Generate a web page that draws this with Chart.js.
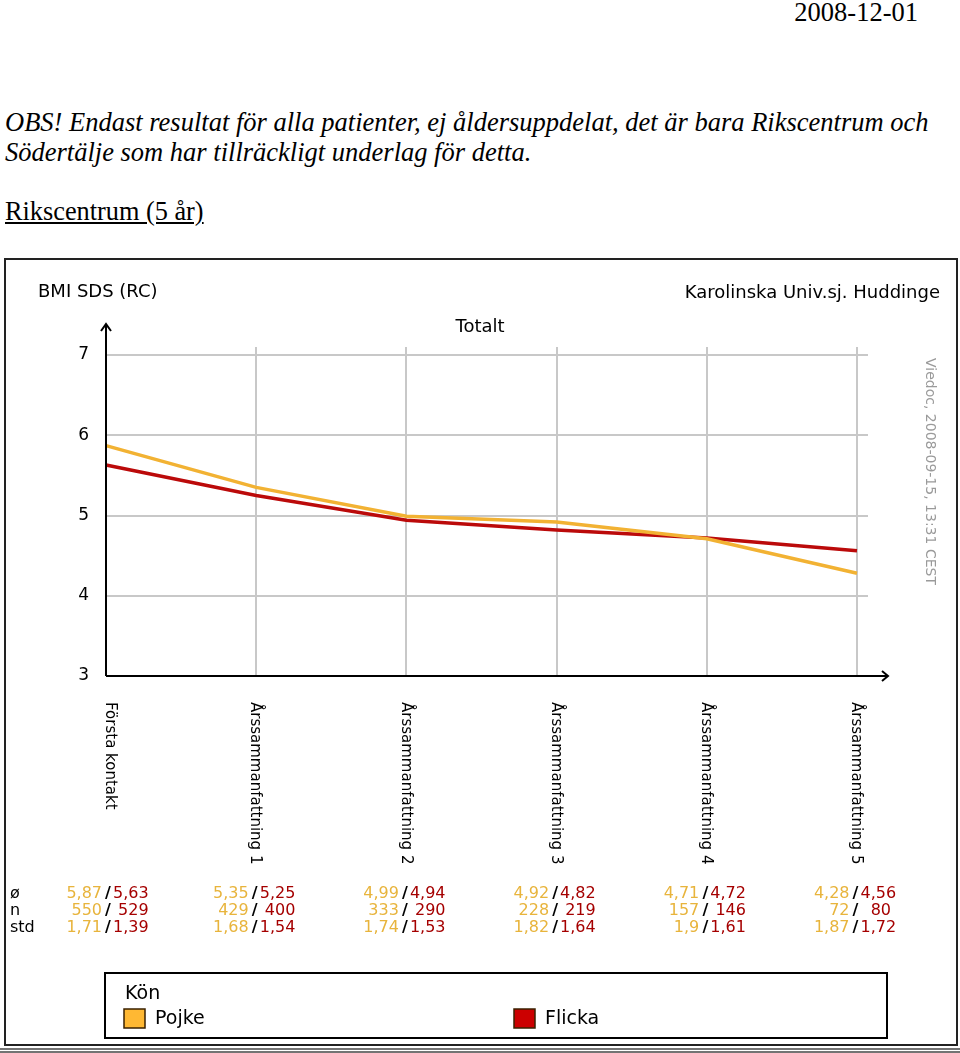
<!DOCTYPE html>
<html>
<head>
<meta charset="utf-8">
<title>BMI SDS (RC)</title>
<script src="https://cdn.jsdelivr.net/npm/chart.js@4.4.1/dist/chart.umd.min.js"></script>
<style>
  body { margin: 0; width: 960px; height: 1053px; position: relative; background: #fff; overflow: hidden;
         font-family: "Liberation Serif", "Times New Roman", serif; color: #000; }
  #date { position: absolute; right: 42px; top: -1px; font-size: 26.5px; line-height: 26px; }
  #note { position: absolute; left: 5px; top: 107px; margin: 0; font-size: 26.5px; line-height: 30px; font-style: italic; }
  #sub { position: absolute; left: 5px; top: 199px; font-size: 26.3px; line-height: 26px; text-decoration: underline; }
  #wrap { position: absolute; left: 0; top: 255px; width: 960px; height: 798px; }
</style>
</head>
<body>
<div id="date">2008-12-01</div>
<p id="note">OBS! Endast resultat för alla patienter, ej åldersuppdelat, det är bara Rikscentrum och<br>Södertälje som har tillräckligt underlag för detta.</p>
<div id="sub">Rikscentrum (5 år)</div>
<div id="wrap"><canvas id="bmiChart"></canvas></div>

<script>
// data
const categories = ['Första kontakt', 'Årssammanfattning 1', 'Årssammanfattning 2',
    'Årssammanfattning 3', 'Årssammanfattning 4', 'Årssammanfattning 5'];
const pojkeMean = [5.87, 5.35, 4.99, 4.92, 4.71, 4.28];
const flickaMean = [5.63, 5.25, 4.94, 4.82, 4.72, 4.56];
const pojkeN = [550, 429, 333, 228, 157, 72];
const flickaN = [529, 400, 290, 219, 146, 80];
const pojkeStd = [1.71, 1.68, 1.74, 1.82, 1.9, 1.87];
const flickaStd = [1.39, 1.54, 1.53, 1.64, 1.61, 1.72];
const yTicks = [3, 4, 5, 6, 7];

const SANS = '"DejaVu Sans", Verdana, sans-serif';
const POJKE = '#F2B233';
const FLICKA = '#BB0A0A';

const fmt = (v) => String(v).replace('.', ',');

const line = (ctx, x1, y1, x2, y2) => {
    ctx.beginPath();
    ctx.moveTo(x1, y1);
    ctx.lineTo(x2, y2);
    ctx.stroke();
};

const decor = {
    id: 'decor',
    beforeDatasetsDraw(chart) {
        const { ctx, chartArea: a, scales: { x, y } } = chart;
        ctx.save();
        ctx.strokeStyle = '#c8c8c8';
        ctx.lineWidth = 2;
        yTicks.slice(1).forEach(v => {
            const py = Math.round(y.getPixelForValue(v));
            line(ctx, a.left, py, a.right + 11, py);
        });
        categories.forEach((c, i) => {
            if (i === 0) return;
            const px = Math.round(x.getPixelForValue(i));
            line(ctx, px, a.top - 8, px, a.bottom);
        });
        ctx.restore();
    },
    afterDatasetsDraw(chart) {
        const { ctx, chartArea: a, scales: { x } } = chart;
        ctx.save();

        // axes with arrows
        ctx.strokeStyle = '#000';
        ctx.lineWidth = 2;
        line(ctx, a.left, a.bottom, a.left, a.top - 31);
        ctx.beginPath();
        ctx.moveTo(a.left - 5, a.top - 24);
        ctx.lineTo(a.left, a.top - 31);
        ctx.lineTo(a.left + 5, a.top - 24);
        ctx.stroke();
        line(ctx, a.left, a.bottom, a.right + 31, a.bottom);
        ctx.beginPath();
        ctx.moveTo(a.right + 25, a.bottom - 5);
        ctx.lineTo(a.right + 31, a.bottom);
        ctx.lineTo(a.right + 25, a.bottom + 5);
        ctx.stroke();

        // titles
        ctx.fillStyle = '#000';
        ctx.textBaseline = 'middle';
        ctx.font = '18px ' + SANS;
        ctx.textAlign = 'left';
        ctx.fillText('BMI SDS (RC)', 38, 37);
        ctx.textAlign = 'right';
        ctx.fillText('Karolinska Univ.sj. Huddinge', 940, 38);
        ctx.textAlign = 'center';
        ctx.fillText('Totalt', 480, 72);

        // stamp on the right
        ctx.save();
        ctx.translate(930, 103);
        ctx.rotate(Math.PI / 2);
        ctx.textAlign = 'left';
        ctx.fillStyle = '#9a9a9a';
        ctx.font = '14px ' + SANS;
        ctx.fillText('Viedoc, 2008-09-15, 13:31 CEST', 0, 0);
        ctx.restore();

        // category labels, reading downwards
        ctx.font = '15px ' + SANS;
        ctx.textAlign = 'left';
        categories.forEach((c, i) => {
            const px = Math.max(x.getPixelForValue(i) - 1, a.left + 4);
            ctx.save();
            ctx.translate(px, a.bottom + 26);
            ctx.rotate(Math.PI / 2);
            ctx.fillText(c, 0, 0);
            ctx.restore();
        });

        // statistics table
        const rows = [
            ['ø', pojkeMean, flickaMean],
            ['n', pojkeN, flickaN],
            ['std', pojkeStd, flickaStd]
        ];
        ctx.font = '16px ' + SANS;
        rows.forEach((r, k) => {
            const ry = 639 + k * 17;
            ctx.fillStyle = '#000';
            ctx.textAlign = 'left';
            ctx.fillText(r[0], 10, ry);
            categories.forEach((c, i) => {
                const sx = Math.max(x.getPixelForValue(i) - 1.5, a.left + 2);
                ctx.fillStyle = '#000';
                ctx.textAlign = 'center';
                ctx.font = 'bold 16px ' + SANS;
                ctx.fillText('/', sx, ry);
                ctx.font = '16px ' + SANS;
                ctx.fillStyle = '#E8B43C';
                ctx.textAlign = 'right';
                ctx.fillText(fmt(r[1][i]), sx - 6, ry);
                ctx.fillStyle = '#A50000';
                ctx.textAlign = 'left';
                ctx.fillText(fmt(r[2][i]).padStart(4, ' '), sx + 5, ry);
            });
        });

        // legend box
        ctx.strokeStyle = '#000';
        ctx.lineWidth = 2;
        ctx.strokeRect(105, 718, 782, 65);
        ctx.fillStyle = '#000';
        ctx.textAlign = 'left';
        ctx.font = '19px ' + SANS;
        ctx.fillText('Kön', 125, 739);
        const legendX = [124, 514];
        const swatch = ['#FFB833', '#CC0000'];
        chart.data.datasets.forEach((ds, i) => {
            ctx.fillStyle = swatch[i];
            ctx.fillRect(legendX[i], 754, 21, 19);
            ctx.strokeStyle = '#3a2000';
            ctx.lineWidth = 1.5;
            ctx.strokeRect(legendX[i], 754, 21, 19);
            ctx.fillStyle = '#000';
            ctx.fillText(ds.label, legendX[i] + 31, 764);
        });

        // frame of the chart image
        ctx.strokeStyle = '#222';
        ctx.lineWidth = 2;
        ctx.strokeRect(5, 4, 952, 786);
        ctx.lineWidth = 1.5;
        ctx.strokeStyle = '#444';
        line(ctx, 0, 794, 960, 794);
        line(ctx, 0, 797, 960, 797);

        ctx.restore();
    }
};

const bmiChart = new Chart(document.getElementById('bmiChart').getContext('2d'), {
    type: 'line',
    data: {
        labels: categories,
        datasets: [
            {
                label: 'Pojke',
                data: pojkeMean,
                borderColor: POJKE,
                backgroundColor: POJKE,
                borderWidth: 3.5,
                pointRadius: 0,
                tension: 0
            },
            {
                label: 'Flicka',
                data: flickaMean,
                borderColor: FLICKA,
                backgroundColor: FLICKA,
                borderWidth: 3.5,
                pointRadius: 0,
                tension: 0
            }
        ]
    },
    options: {
        responsive: true,
        maintainAspectRatio: false,
        animation: false,
        layout: {
            padding: { top: 100, right: 103, bottom: 377, left: 0 }
        },
        plugins: {
            legend: { display: false },
            tooltip: { enabled: false }
        },
        scales: {
            x: {
                type: 'category',
                offset: false,
                grid: { display: false, drawTicks: false },
                border: { display: false },
                ticks: { display: false },
                afterFit: (s) => { s.height = 0; }
            },
            y: {
                min: 3,
                max: 7,
                afterBuildTicks: (s) => { s.ticks = yTicks.map(v => ({ value: v })); },
                grid: { display: false, drawTicks: false },
                border: { display: false },
                ticks: {
                    padding: 17,
                    color: '#000',
                    font: { family: SANS, size: 17 }
                },
                afterFit: (s) => { s.width = 106; }
            }
        }
    },
    plugins: [decor]
});
</script>
</body>
</html>
